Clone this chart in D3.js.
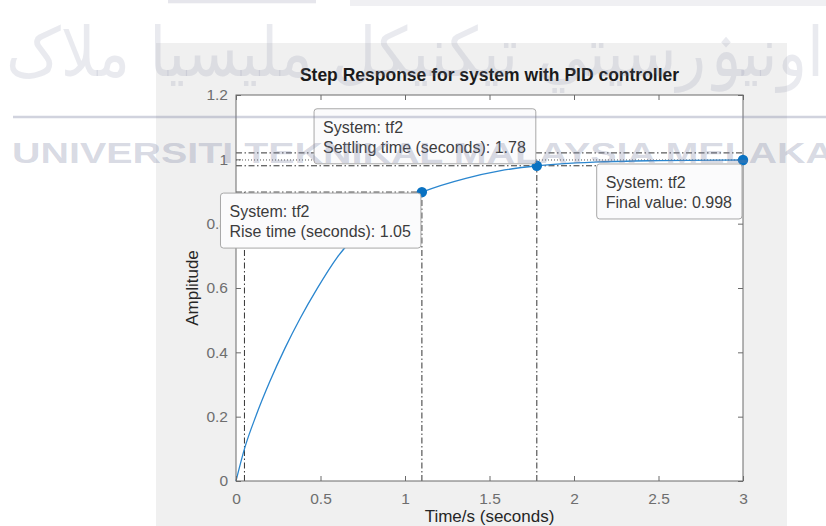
<!DOCTYPE html>
<html>
<head>
<meta charset="utf-8">
<script src="https://cdn.jsdelivr.net/npm/d3@7"></script>
<style>
  html, body { margin: 0; padding: 0; background: #ffffff; }
  svg { display: block; }
  text { font-family: "Liberation Sans", Arial, Helvetica, sans-serif; }
</style>
</head>
<body>
<script>
// Step response samples (time in seconds, amplitude)
const timeS     = [0, 0.05, 0.12, 0.20, 0.29, 0.38, 0.48, 0.60, 0.75, 0.90, 1.10, 1.36, 1.56, 1.78, 2.15, 2.50, 3.00];
const amplitude = [0, 0.10, 0.205, 0.309, 0.413, 0.506, 0.598, 0.696, 0.786, 0.849, 0.898, 0.941, 0.964, 0.980, 0.992, 0.996, 0.998];

// Step characteristics
const finalValue = 0.998;
const riseStart = 0.05;      // 10 % time
const riseEnd = 1.10;        // 90 % time
const riseTime = 1.05;
const settlingTime = 1.78;
const settleBand = [0.98, 1.02];
const tEnd = 3;

// Axis ticks
const xTicks = [0, 0.5, 1, 1.5, 2, 2.5, 3];
const xTickLabels = ["0", "0.5", "1", "1.5", "2", "2.5", "3"];
const yTicks = [0, 0.2, 0.4, 0.6, 0.8, 1, 1.2];
const yTickLabels = ["0", "0.2", "0.4", "0.6", "0.8", "1", "1.2"];

// Data tip contents
const tipLines = [
  ["System: tf2", "Settling time (seconds): " + settlingTime.toFixed(2)],
  ["System: tf2", "Rise time (seconds): " + riseTime.toFixed(2)],
  ["System: tf2", "Final value: " + finalValue.toFixed(3)]
];

const W = 826, H = 526;
const svg = d3.select("body").append("svg").attr("width", W).attr("height", H);

// faint strips along the top edge
svg.append("rect").attr("x", 168).attr("y", 0).attr("width", 148).attr("height", 3.3).attr("fill", "#e6e6ec");
svg.append("rect").attr("x", 350).attr("y", 0).attr("width", 476).attr("height", 6).attr("fill", "#f0f0f3");

// figure panel
svg.append("rect").attr("x", 156).attr("y", 43).attr("width", 631).attr("height", H - 43).attr("fill", "#f0f0f0");

const x = d3.scaleLinear().domain([0, 3]).range([236, 743]);
const y = d3.scaleLinear().domain([0, 1.2]).range([481, 95]);

// axes background
svg.append("rect")
  .attr("x", x(0)).attr("y", y(1.2))
  .attr("width", x(3) - x(0)).attr("height", y(0) - y(1.2))
  .attr("fill", "#ffffff");

// characteristic marker lines
const marks = svg.append("g").attr("fill", "none").attr("stroke", "#333").attr("stroke-width", 1);
const dashDot = "6,2.5,1.5,2.5";
const seg = (x1, y1, x2, y2, dash, col) =>
  marks.append("line")
    .attr("x1", x(x1)).attr("y1", y(y1)).attr("x2", x(x2)).attr("y2", y(y2))
    .attr("stroke-dasharray", dash).attr("stroke", col || "#333");

seg(0, settleBand[1], tEnd, settleBand[1], dashDot);
seg(0, settleBand[0], tEnd, settleBand[0], dashDot);
seg(0, finalValue, tEnd, finalValue, "1,2", "#555");
seg(0, 0.9 * finalValue, riseEnd, 0.9 * finalValue, dashDot);
seg(riseStart, 0, riseStart, 0.9 * finalValue, dashDot);
seg(riseEnd, 0, riseEnd, 0.9 * finalValue, dashDot);
seg(settlingTime, 0, settlingTime, settleBand[0], dashDot);

// response curve
const pts = timeS.map((t, i) => [t, amplitude[i]]);
svg.append("path")
  .datum(pts)
  .attr("fill", "none")
  .attr("stroke", "#2a86cf")
  .attr("stroke-width", 1.3)
  .attr("d", d3.line().x(d => x(d[0])).y(d => y(d[1])).curve(d3.curveMonotoneX));

// axes: ticks point inward, box on
const tickFont = 15.5;
const axCol = "#6b6b6b";
const styleAxis = g => {
  g.select(".domain").remove();
  g.selectAll(".tick line").attr("stroke", axCol);
  g.selectAll(".tick text").attr("fill", "#6e6e6e").style("font-size", tickFont + "px")
    .style("font-family", "'Liberation Sans', Arial, sans-serif");
};
svg.append("g").attr("transform", `translate(0,${y(0)})`)
  .call(d3.axisBottom(x).tickValues(xTicks).tickFormat((d, i) => xTickLabels[i]).tickSizeInner(-5).tickSizeOuter(0).tickPadding(12))
  .call(styleAxis);
svg.append("g").attr("transform", `translate(0,${y(1.2)})`)
  .call(d3.axisTop(x).tickValues(xTicks).tickFormat("").tickSizeInner(-5).tickSizeOuter(0))
  .call(styleAxis);
svg.append("g").attr("transform", `translate(${x(0)},0)`)
  .call(d3.axisLeft(y).tickValues(yTicks).tickFormat((d, i) => yTickLabels[i]).tickSizeInner(-5).tickSizeOuter(0).tickPadding(8))
  .call(styleAxis);
svg.append("g").attr("transform", `translate(${x(3)},0)`)
  .call(d3.axisRight(y).tickValues(yTicks).tickFormat("").tickSizeInner(-5).tickSizeOuter(0))
  .call(styleAxis);

svg.append("rect")
  .attr("x", x(0)).attr("y", y(1.2))
  .attr("width", x(3) - x(0)).attr("height", y(0) - y(1.2))
  .attr("fill", "none").attr("stroke", axCol).attr("stroke-width", 1);

// marker dots
const dotPts = [[riseEnd, 0.9 * finalValue], [settlingTime, settleBand[0]], [tEnd, finalValue]];
svg.append("g").selectAll("circle").data(dotPts).join("circle")
  .attr("cx", d => x(d[0])).attr("cy", d => y(d[1])).attr("r", 5.2)
  .attr("fill", "#0a72c2");

// titles
svg.append("text").attr("x", (x(0) + x(3)) / 2).attr("y", 80.5)
  .attr("text-anchor", "middle").style("font-size", "17.5px").style("font-weight", "bold")
  .attr("fill", "#1a1a1a").text("Step Response for system with PID controller");
svg.append("text").attr("x", (x(0) + x(3)) / 2).attr("y", 522)
  .attr("text-anchor", "middle").style("font-size", "17px")
  .attr("fill", "#262626").text("Time/s (seconds)");
svg.append("text")
  .attr("transform", `translate(198,${(y(0) + y(1.2)) / 2}) rotate(-90)`)
  .attr("text-anchor", "middle").style("font-size", "17px")
  .attr("fill", "#262626").text("Amplitude");

// data tips: anchor point, which side of the point the box sits on
const tips = [
  { p: [settlingTime, settleBand[0]], lines: tipLines[0], above: true, dy: -2 },
  { p: [riseEnd, 0.9 * finalValue], lines: tipLines[1], above: false, dy: 1 },
  { p: [tEnd, finalValue], lines: tipLines[2], above: false, dy: 4 }
];
const tipFont = 16, boxH = 55;
tips.forEach(t => {
  const g = svg.append("g");
  const rect = g.append("rect");
  const txt = t.lines.map(s => g.append("text").style("font-size", tipFont + "px").attr("fill", "#3c3c3c").text(s));
  const wText = d3.max(txt, n => n.node().getComputedTextLength());
  const bw = wText + 19;
  const right = x(t.p[0]) - 1;
  const top = t.above ? y(t.p[1]) + t.dy - boxH : y(t.p[1]) + t.dy;
  rect.attr("x", right - bw).attr("y", top).attr("width", bw).attr("height", boxH)
    .attr("rx", 3).attr("fill", "#fbfbfc").attr("stroke", "#a8a8a8").attr("stroke-width", 1);
  txt.forEach((n, i) => n.attr("x", right - bw + 9).attr("y", top + 24 + i * 20));
});

// watermark overlay
const wm = svg.append("g").attr("pointer-events", "none");
wm.append("text")
  .attr("x", 415).attr("y", 76)
  .attr("text-anchor", "middle")
  .attr("textLength", 818).attr("lengthAdjust", "spacingAndGlyphs")
  .style("font-family", "'DejaVu Sans', sans-serif").style("font-size", "68px")
  .attr("fill", "#7a80a0").attr("fill-opacity", 0.17)
  .text("اونيۏرسيتي تيکنيکل مليسيا ملاک");
wm.append("line").attr("x1", 13).attr("x2", 826).attr("y1", 117).attr("y2", 117)
  .attr("stroke", "#7a80a0").attr("stroke-opacity", 0.35).attr("stroke-width", 2.5);
wm.append("text")
  .attr("x", 12).attr("y", 163)
  .attr("textLength", 822).attr("lengthAdjust", "spacingAndGlyphs")
  .style("font-size", "30px").style("font-weight", "bold")
  .attr("fill", "#7a80a0").attr("fill-opacity", 0.3)
  .text("UNIVERSITI TEKNIKAL MALAYSIA MELAKA");
</script>
</body>
</html>
